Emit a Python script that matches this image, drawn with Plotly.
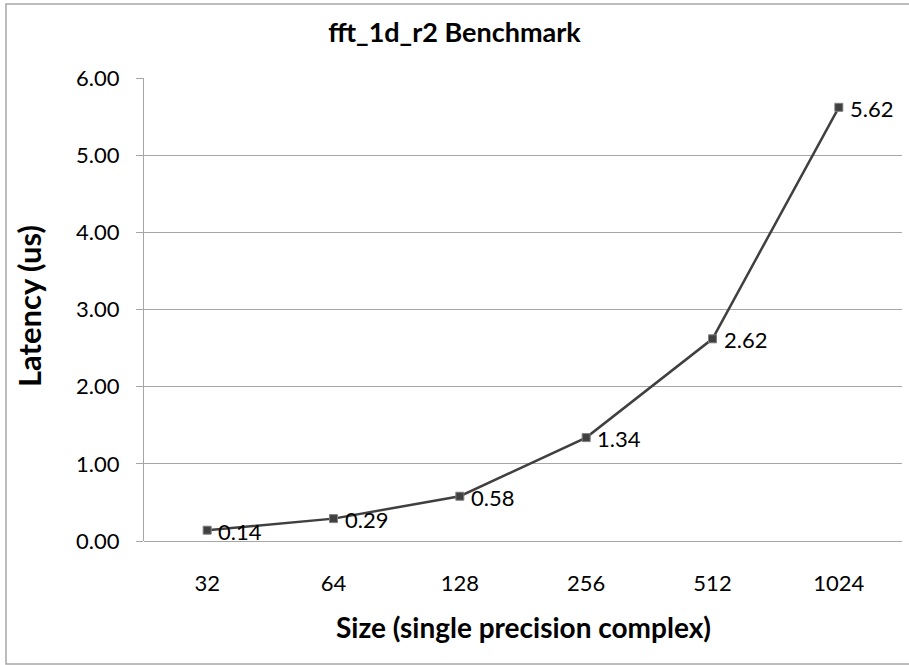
import plotly.graph_objects as go

# Benchmark data
sizes = ["32", "64", "128", "256", "512", "1024"]
latency_us = [0.14, 0.29, 0.58, 1.34, 2.62, 5.62]
y_ticks = [0, 1, 2, 3, 4, 5, 6]

W, H = 909, 665
ML, MR, MT, MB = 144, 7, 78, 124
pw = W - ML - MR
ph = H - MT - MB

def px_to_paper_x(px):
    return (px - ML) / pw

def px_to_paper_y(py):
    return (H - MB - py) / ph

font_family = "Lato, 'Open Sans', sans-serif"
black = "#000000"
gray = "#a6a6a6"

fig = go.Figure()
fig.add_trace(go.Scatter(
    x=sizes,
    y=latency_us,
    mode="lines+markers",
    line=dict(color="#404040", width=2.5),
    marker=dict(symbol="square", size=8, color="#404040",
                line=dict(color="#7f7f7f", width=1)),
    showlegend=False,
))

# value labels to the right of each point (category axis -> use index position)
for i, v in enumerate(latency_us):
    fig.add_annotation(x=i, y=v, xref="x", yref="y", text=f"{v:.2f}",
                       showarrow=False, xanchor="left", yanchor="middle",
                       xshift=9, yshift=-1,
                       font=dict(family=font_family, size=22, color=black))

# axis titles
fig.add_annotation(xref="paper", yref="paper",
                   x=px_to_paper_x(523), y=px_to_paper_y(627),
                   text="<b>Size (single precision complex)</b>", showarrow=False,
                   xanchor="center", yanchor="middle",
                   font=dict(family=font_family, size=28, color=black))
fig.add_annotation(xref="paper", yref="paper",
                   x=px_to_paper_x(29), y=px_to_paper_y(306),
                   text="<b>Latency (us)</b>", showarrow=False, textangle=-90,
                   xanchor="center", yanchor="middle",
                   font=dict(family=font_family, size=31, color=black))

# chart frame
fig.add_shape(type="rect", xref="paper", yref="paper",
              x0=px_to_paper_x(6), x1=px_to_paper_x(930),
              y0=px_to_paper_y(664), y1=px_to_paper_y(4),
              line=dict(color=gray, width=1.5), layer="below")

fig.update_layout(
    width=W, height=H,
    margin=dict(l=ML, r=MR, t=MT, b=MB),
    paper_bgcolor="white", plot_bgcolor="white",
    title=dict(text="<b>fft_1d_r2 Benchmark</b>", x=0.5, xref="container",
               xanchor="center",
               y=1 - 33 / H, yanchor="middle",
               font=dict(family=font_family, size=27, color=black)),
    xaxis=dict(
        type="category", categoryorder="array", categoryarray=sizes,
        range=[-0.5, 5.5],
        showgrid=False, showline=False, zeroline=False, ticks="",
        tickfont=dict(family=font_family, size=22, color=black),
        ticklabelstandoff=27,
    ),
    yaxis=dict(
        range=[0, 6], tickvals=y_ticks, tickformat=".2f",
        showgrid=True, gridcolor=gray, gridwidth=1,
        showline=True, linecolor=gray, linewidth=1,
        zeroline=True, zerolinecolor=gray, zerolinewidth=1,
        ticks="outside", ticklen=7, tickcolor=gray,
        tickfont=dict(family=font_family, size=22, color=black),
        ticklabelstandoff=12,
    ),
)

fig.write_html("out.html")
